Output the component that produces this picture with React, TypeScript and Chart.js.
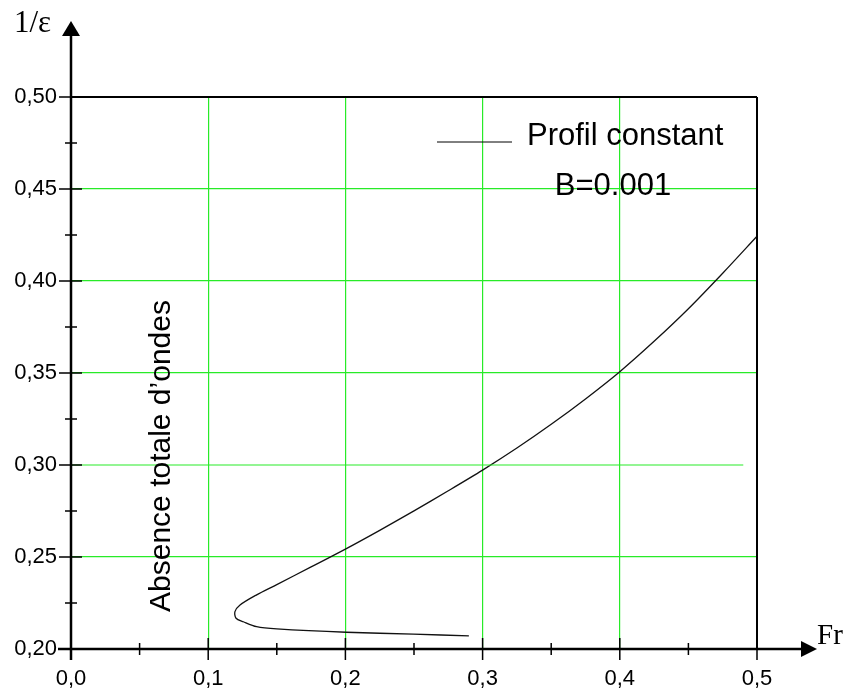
import React, { useEffect, useRef } from "react";
import { Chart, registerables } from "chart.js";

Chart.register(...registerables);

// Froude number (abscissa) and 1/ε (ordinate) along the constant-profile curve, B = 0.001.
// The curve folds back on itself: lower branch from right to left, then the upper branch.
const froude = [
  0.29, 0.2495, 0.2006, 0.15, 0.1353, 0.1256, 0.1203, 0.1195, 0.1232, 0.135,
  0.15, 0.175, 0.2, 0.225, 0.25, 0.275, 0.3, 0.325, 0.35, 0.375,
  0.4, 0.425, 0.45, 0.475, 0.5,
];
const invEps = [
  0.2071, 0.2081, 0.2091, 0.2109, 0.2121, 0.2148, 0.2167, 0.2203, 0.2239, 0.2293,
  0.235, 0.2446, 0.2543, 0.2645, 0.2751, 0.286, 0.2972, 0.3092, 0.3221, 0.3359,
  0.3507, 0.3672, 0.3849, 0.4042, 0.4243,
];

const xTicks = [0, 0.1, 0.2, 0.3, 0.4, 0.5];
const yTicks = [0.2, 0.25, 0.3, 0.35, 0.4, 0.45, 0.5];

const seriesLabel = "Profil constant";
const paramLabel = "B=0.001";
const regionLabel = "Absence totale d\u2019ondes";
const yTitle = "1/\u03b5";
const xTitle = "Fr";

const GREEN = "rgb(40,235,40)";
const SANS = "'Liberation Sans', Arial, sans-serif";
const SERIF = "'Liberation Serif', 'Times New Roman', serif";

const comma = (v: number, d: number) => v.toFixed(d).replace(".", ",");
const near = (a: number, b: number) => Math.abs(a - b) < 1e-6;

const axesPlugin = {
  id: "axesDecor",
  afterDraw(chart: any) {
    const { ctx } = chart;
    const xs = chart.scales.x;
    const ys = chart.scales.y;
    const x0 = xs.getPixelForValue(0);
    const x5 = xs.getPixelForValue(0.5);
    const yb = ys.getPixelForValue(0.2);
    const yt = ys.getPixelForValue(0.5);
    ctx.save();

    // shortened grid line at 0,30
    ctx.strokeStyle = GREEN;
    ctx.lineWidth = 1.2;
    const y30 = ys.getPixelForValue(0.3);
    ctx.beginPath();
    ctx.moveTo(x0, y30);
    ctx.lineTo(xs.getPixelForValue(0.49), y30);
    ctx.stroke();

    ctx.strokeStyle = "#000";
    ctx.fillStyle = "#000";

    // frame top and right
    ctx.lineWidth = 2;
    ctx.beginPath();
    ctx.moveTo(x0, yt);
    ctx.lineTo(x5, yt);
    ctx.moveTo(x5, yt);
    ctx.lineTo(x5, yb);
    ctx.stroke();

    // axes
    ctx.lineWidth = 2.5;
    ctx.beginPath();
    ctx.moveTo(x0, yb + 11);
    ctx.lineTo(x0, 34);
    ctx.moveTo(x0 - 13, yb);
    ctx.lineTo(803, yb);
    ctx.stroke();

    // arrow heads
    ctx.beginPath();
    ctx.moveTo(x0, 21);
    ctx.lineTo(x0 - 9, 36);
    ctx.lineTo(x0 + 9, 36);
    ctx.closePath();
    ctx.fill();
    ctx.beginPath();
    ctx.moveTo(817, yb);
    ctx.lineTo(801, yb - 8);
    ctx.lineTo(801, yb + 8);
    ctx.closePath();
    ctx.fill();

    // y ticks
    ctx.lineWidth = 1.5;
    ctx.beginPath();
    yTicks.forEach((v, i) => {
      const p = ys.getPixelForValue(v);
      ctx.moveTo(x0 - 12, p);
      ctx.lineTo(x0 + 11, p);
      if (i < yTicks.length - 1) {
        const m = ys.getPixelForValue(v + 0.025);
        ctx.moveTo(x0 - 6, m);
        ctx.lineTo(x0 + 6, m);
      }
    });
    // x ticks
    xTicks.forEach((v, i) => {
      const p = xs.getPixelForValue(v);
      ctx.moveTo(p, yb - 11);
      ctx.lineTo(p, yb + 11);
      if (i < xTicks.length - 1) {
        const m = xs.getPixelForValue(v + 0.05);
        ctx.moveTo(m, yb - 6);
        ctx.lineTo(m, yb + 6);
      }
    });
    ctx.stroke();

    // axis titles
    ctx.textAlign = "left";
    ctx.textBaseline = "alphabetic";
    ctx.font = `31px ${SERIF}`;
    ctx.fillText(yTitle, 14, 32);
    ctx.font = `29px ${SERIF}`;
    ctx.fillText(xTitle, 817, 644);

    // legend
    ctx.lineWidth = 1;
    ctx.beginPath();
    ctx.moveTo(437, 142);
    ctx.lineTo(512, 142);
    ctx.stroke();
    ctx.font = `31px ${SANS}`;
    ctx.fillText(seriesLabel, 527, 145);
    ctx.textAlign = "center";
    ctx.fillText(paramLabel, 613, 195);

    // vertical region label
    ctx.translate(170, 456);
    ctx.rotate(-Math.PI / 2);
    ctx.textAlign = "center";
    ctx.font = `30px ${SANS}`;
    ctx.fillText(regionLabel, 0, 0);

    ctx.restore();
  },
};

export default function App() {
  const ref = useRef<HTMLCanvasElement>(null);

  useEffect(() => {
    if (!ref.current) return;
    const chart = new Chart(ref.current, {
      type: "scatter",
      data: {
        datasets: [
          {
            label: seriesLabel,
            data: froude.map((f, i) => ({ x: f, y: invEps[i] })),
            showLine: true,
            borderColor: "#111",
            borderWidth: 1.3,
            pointRadius: 0,
            tension: 0.3,
            fill: false,
          },
        ],
      },
      options: {
        responsive: false,
        animation: false,
        layout: { padding: { top: 97, right: 90, left: 0, bottom: 0 } },
        plugins: {
          legend: { display: false },
          tooltip: { enabled: false },
        },
        scales: {
          x: {
            type: "linear",
            min: 0,
            max: 0.5,
            afterFit: (s: any) => {
              s.height = 45;
            },
            afterBuildTicks: (s: any) => {
              s.ticks = xTicks.map((v) => ({ value: v }));
            },
            ticks: {
              callback: (v: any) => comma(Number(v), 1),
              color: "#000",
              font: { family: SANS, size: 22 },
              padding: 17,
              maxRotation: 0,
            },
            grid: {
              color: GREEN,
              lineWidth: 1.2,
              drawTicks: false,
            },
            border: { display: false },
          },
          y: {
            type: "linear",
            min: 0.2,
            max: 0.5,
            afterFit: (s: any) => {
              s.width = 71;
            },
            afterBuildTicks: (s: any) => {
              s.ticks = yTicks.map((v) => ({ value: v }));
            },
            ticks: {
              callback: (v: any) => comma(Number(v), 2),
              color: "#000",
              font: { family: SANS, size: 22 },
              padding: 14,
            },
            grid: {
              color: (c: any) =>
                c.tick && near(c.tick.value, 0.3) ? "rgba(0,0,0,0)" : GREEN,
              lineWidth: 1.2,
              drawTicks: false,
            },
            border: { display: false },
          },
        },
      },
      plugins: [axesPlugin],
    });
    return () => chart.destroy();
  }, []);

  return (
    <div style={{ position: "fixed", left: 0, top: 0, width: 847, height: 694, background: "#fff" }}>
      <canvas ref={ref} width={847} height={694} style={{ display: "block" }} />
    </div>
  );
}
